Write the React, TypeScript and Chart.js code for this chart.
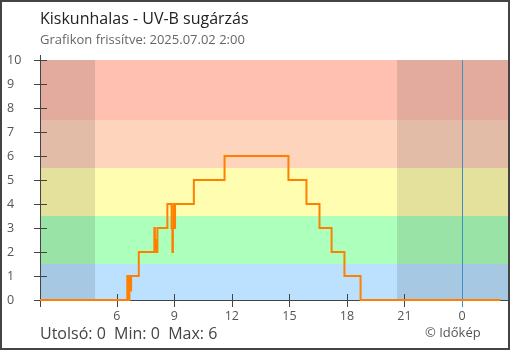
import React, { useEffect, useRef } from "react";
import { Chart, registerables } from "chart.js";

Chart.register(...registerables);

// ---- data ----
const stepHours = [2, 6.55, 6.63, 6.66, 6.71, 6.75, 7.15, 7.96, 7.99, 8.03, 8.06, 8.12, 8.64, 8.86, 8.9, 8.93, 8.97, 9.0, 9.04, 10.02, 11.62, 14.95, 15.89, 16.57, 17.2, 17.87, 18.71, 26];
const uvValues = [0, 1, 0, 1, 0.4, 1, 2, 3, 2, 2.5, 2, 3, 4, 3, 2, 3, 4, 3, 4, 5, 6, 5, 4, 3, 2, 1, 0, 0];
const xTickHours = [6, 9, 12, 15, 18, 21, 24];
const yTickValues = [0, 1, 2, 3, 4, 5, 6, 7, 8, 9, 10];
const bandLimits = [0, 1.5, 3.5, 5.5, 7.5, 10];
const bandColors = ["#bbe1ff", "#adffbc", "#fffdb0", "#ffd4bd", "#ffc0b2"];
const sunriseHour = 4.87;
const sunsetHour = 20.61;
const midnightHour = 24;
const xMin = 2;
const xMax = 26.5;
const titleText = "Kiskunhalas - UV-B sugárzás";
const subtitleText = "Grafikon frissítve: 2025.07.02 2:00";
const footerText = "Utolsó: 0  Min: 0  Max: 6";
const creditText = "© Időkép";

const FONT = "'Open Sans', 'Noto Sans', sans-serif";

const backgroundPlugin = {
  id: "uvBackground",
  beforeDatasetsDraw(chart: any) {
    const { ctx, chartArea, scales } = chart;
    const x = scales.x;
    const y = scales.y;
    ctx.save();
    // UV bands
    for (let i = 0; i < bandColors.length; i++) {
      const top = y.getPixelForValue(bandLimits[i + 1]);
      const bot = y.getPixelForValue(bandLimits[i]);
      ctx.fillStyle = bandColors[i];
      ctx.fillRect(chartArea.left, top, chartArea.right - chartArea.left, bot - top);
    }
    // night shading
    ctx.fillStyle = "rgba(0,0,0,0.11)";
    const sr = x.getPixelForValue(sunriseHour);
    ctx.fillRect(chartArea.left, chartArea.top, sr - chartArea.left, chartArea.bottom - chartArea.top);
    const ss = x.getPixelForValue(sunsetHour);
    ctx.fillRect(ss, chartArea.top, chartArea.right - ss, chartArea.bottom - chartArea.top);
    // midnight line
    const mx = Math.round(x.getPixelForValue(midnightHour)) + 0.5;
    ctx.strokeStyle = "#3f8ec4";
    ctx.lineWidth = 1;
    ctx.beginPath();
    ctx.moveTo(mx, chartArea.top);
    ctx.lineTo(mx, chartArea.bottom + 7);
    ctx.stroke();
    // axes
    ctx.strokeStyle = "#444";
    ctx.lineWidth = 1;
    ctx.beginPath();
    const ax = Math.round(chartArea.left) + 0.5;
    const ay = Math.round(chartArea.bottom) + 0.5;
    ctx.moveTo(ax, chartArea.top - 5);
    ctx.lineTo(ax, chartArea.bottom + 7);
    ctx.moveTo(chartArea.left, ay);
    ctx.lineTo(chartArea.right, ay);
    for (const v of yTickValues) {
      const py = Math.round(y.getPixelForValue(v)) + 0.5;
      ctx.moveTo(chartArea.left - 6, py);
      ctx.lineTo(chartArea.left + 7, py);
    }
    for (const h of xTickHours) {
      if (h === midnightHour) continue;
      const px = Math.round(x.getPixelForValue(h)) + 0.5;
      ctx.moveTo(px, chartArea.bottom - 6);
      ctx.lineTo(px, chartArea.bottom + 7);
    }
    ctx.stroke();
    ctx.restore();
  },
};

export default function App() {
  const canvasRef = useRef<HTMLCanvasElement | null>(null);

  useEffect(() => {
    document.body.style.margin = "0";
    const canvas = canvasRef.current;
    if (!canvas) return;
    const points = stepHours.map((h, i) => ({ x: h, y: uvValues[i] }));
    const chart = new Chart(canvas, {
      type: "line",
      data: {
        datasets: [
          {
            data: points,
            borderColor: "#ff8000",
            borderWidth: 2,
            pointRadius: 0,
            stepped: true,
            fill: false,
            clip: false,
          } as any,
        ],
      },
      options: {
        animation: false,
        responsive: false,
        events: [],
        layout: { padding: { left: 7, top: 60, right: 0, bottom: 0 } },
        plugins: {
          legend: { display: false },
          tooltip: { enabled: false },
          title: { display: false },
        },
        scales: {
          x: {
            type: "linear",
            min: xMin,
            max: xMax,
            grid: { display: false, drawTicks: false, tickLength: 0 },
            border: { display: false },
            afterBuildTicks: (scale: any) => {
              scale.ticks = xTickHours.map((v) => ({ value: v }));
            },
            afterFit: (scale: any) => {
              scale.height = 50;
            },
            ticks: {
              autoSkip: false,
              maxRotation: 0,
              padding: 9,
              color: "#555",
              font: { family: FONT, size: 12.5 },
              callback: (v: any) => String(Number(v) % 24),
            },
          },
          y: {
            type: "linear",
            min: 0,
            max: 10,
            grid: { display: false, drawTicks: false, tickLength: 0 },
            border: { display: false },
            afterBuildTicks: (scale: any) => {
              scale.ticks = yTickValues.map((v) => ({ value: v }));
            },
            afterFit: (scale: any) => {
              scale.width = 33;
            },
            ticks: {
              crossAlign: "far",
              padding: 0,
              color: "#555",
              font: { family: FONT, size: 12.5 },
            },
          },
        },
      },
      plugins: [backgroundPlugin],
    });
    return () => chart.destroy();
  }, []);

  const textBase: React.CSSProperties = {
    position: "absolute",
    fontFamily: FONT,
    whiteSpace: "pre",
    lineHeight: 1,
  };

  return (
    <div style={{ position: "fixed", left: 0, top: 0, width: 510, height: 350, background: "#fff" }}>
      <canvas ref={canvasRef} width={510} height={350} style={{ position: "absolute", left: 0, top: 0, width: 510, height: 350 }} />
      <div style={{ ...textBase, left: 40, top: 10, fontSize: 16, color: "#222" }}>{titleText}</div>
      <div style={{ ...textBase, left: 40, top: 32.8, fontSize: 13, color: "#666" }}>{subtitleText}</div>
      <div style={{ ...textBase, left: 40, top: 324.5, fontSize: 16, color: "#444" }}>{footerText}</div>
      <div style={{ ...textBase, left: 425, top: 325.5, fontSize: 13, color: "#555" }}>{creditText}</div>
      <div style={{ position: "absolute", left: 0, top: 0, width: 510, height: 350, boxSizing: "border-box", border: "2px solid #444", pointerEvents: "none" }} />
    </div>
  );
}
